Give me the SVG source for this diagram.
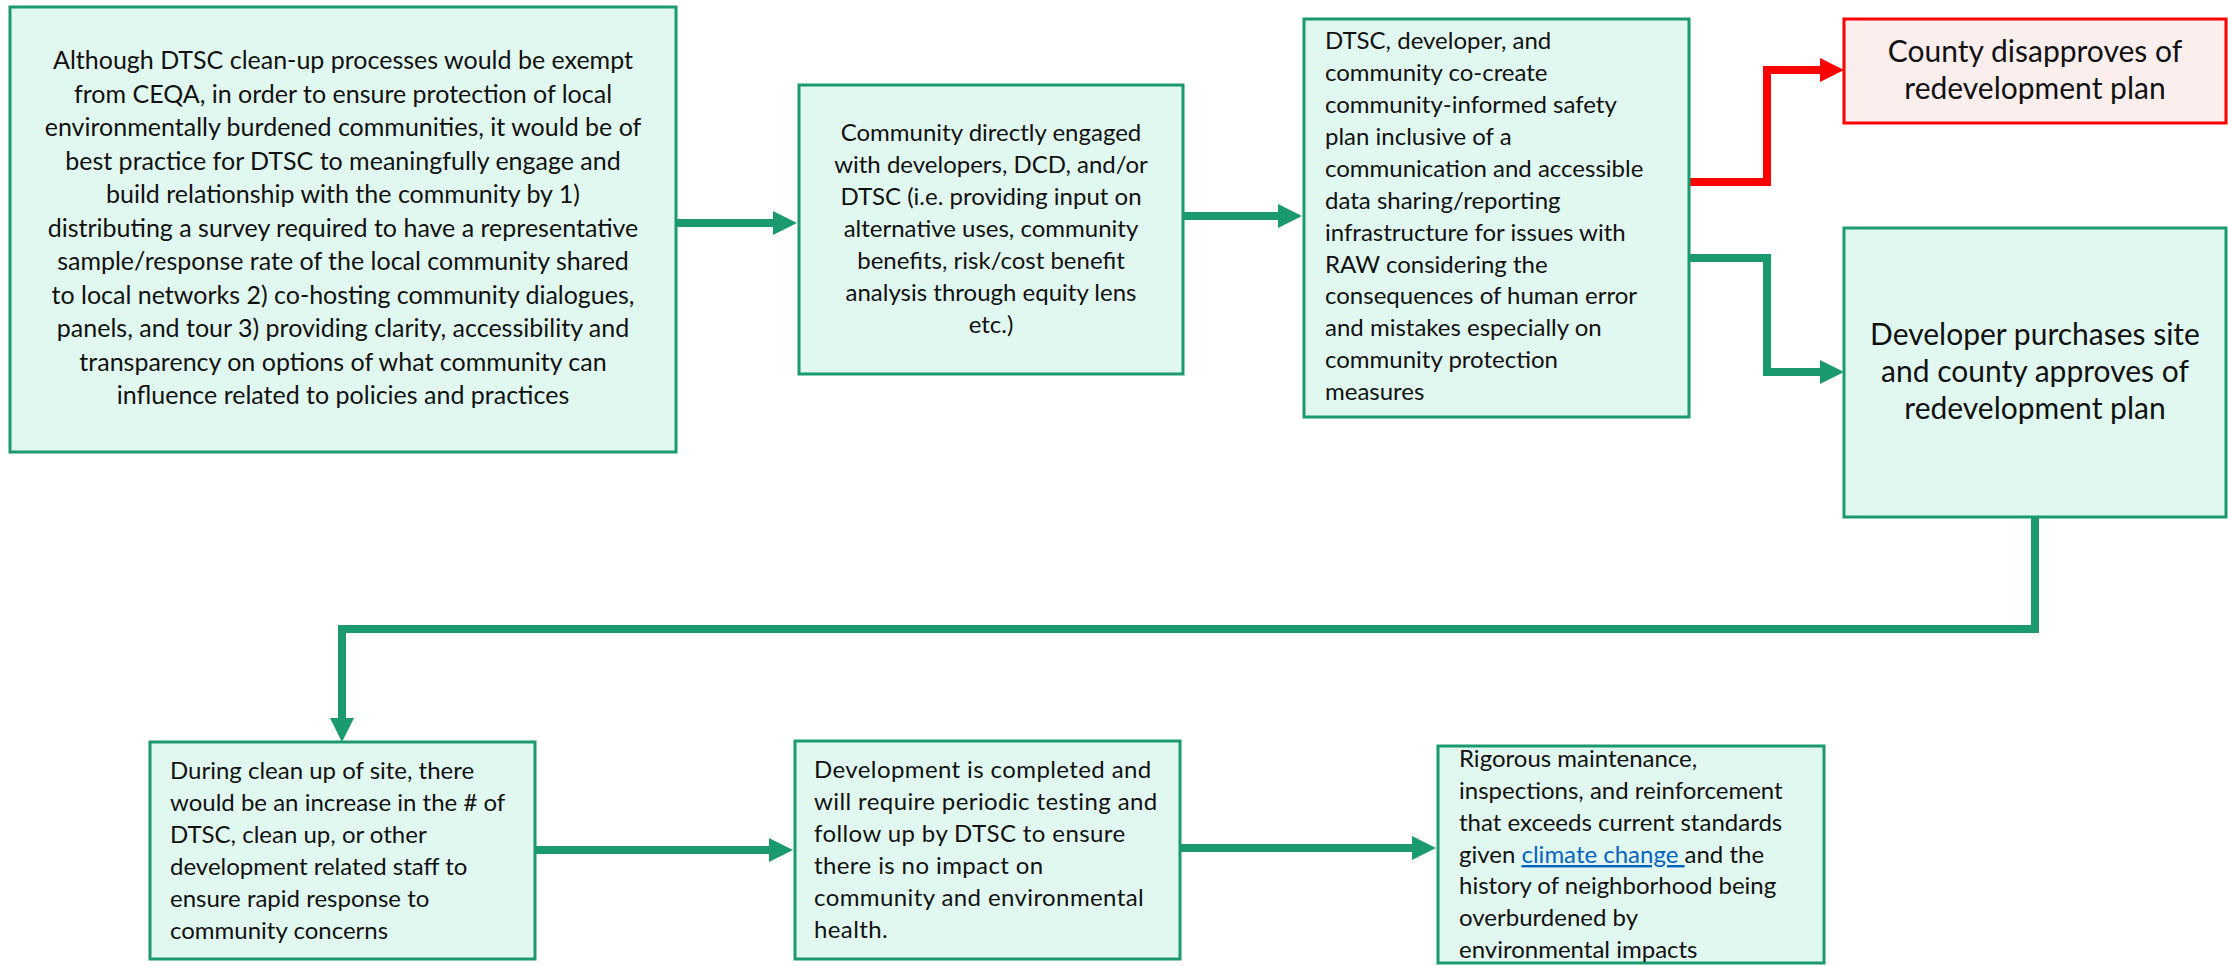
<svg xmlns="http://www.w3.org/2000/svg" width="2228" height="966" viewBox="0 0 2228 966">
<defs>
<style>
.box{fill:#e0f8ef;stroke:#1b9a70;stroke-width:3}
.rbox{fill:#fdeeee;stroke:#ff0000;stroke-width:3}
.t{font-family:Lato,"Liberation Sans",sans-serif;font-size:24px;fill:#111}
.c{text-anchor:middle}
.big{font-size:30px}
.b1{font-size:25px}
.sp{letter-spacing:0.4px}
.g{fill:none;stroke:#1b9a70;stroke-width:8;stroke-linejoin:miter}
.r{fill:none;stroke:#ff0000;stroke-width:8;stroke-linejoin:miter}
.link{fill:#0563c1;text-decoration:underline}
</style>
<marker id="ag" markerUnits="userSpaceOnUse" markerWidth="24" markerHeight="24" refX="2" refY="12" orient="auto"><path d="M0,0 L24,12 L0,24 z" fill="#1b9a70"/></marker>
<marker id="ar" markerUnits="userSpaceOnUse" markerWidth="24" markerHeight="24" refX="2" refY="12" orient="auto"><path d="M0,0 L24,12 L0,24 z" fill="#ff0000"/></marker>
</defs>
<rect width="2228" height="966" fill="#fff"/>
<g id="connectors">
<path class="g" d="M676,223 H775" marker-end="url(#ag)"/>
<path class="g" d="M1183,216 H1280" marker-end="url(#ag)"/>
<path class="r" d="M1689,182 H1767 V70 H1822" marker-end="url(#ar)"/>
<path class="g" d="M1689,258 H1767 V372 H1822" marker-end="url(#ag)"/>
<path class="g" d="M2035,517 V629 H342 V720" marker-end="url(#ag)"/>
<path class="g" d="M535,850 H771" marker-end="url(#ag)"/>
<path class="g" d="M1180,848 H1414" marker-end="url(#ag)"/>
</g>
<g id="n1">
<rect class="box" x="10" y="7" width="666" height="445"/>
<text class="t c b1" x="343" y="69">Although DTSC clean-up processes would be exempt</text>
<text class="t c b1" x="343" y="102.5">from CEQA, in order to ensure protection of local</text>
<text class="t c b1" x="343" y="136">environmentally burdened communities, it would be of</text>
<text class="t c b1" x="343" y="169.5">best practice for DTSC to meaningfully engage and</text>
<text class="t c b1" x="343" y="203">build relationship with the community by 1)</text>
<text class="t c b1" x="343" y="236.5">distributing a survey required to have a representative</text>
<text class="t c b1" x="343" y="270">sample/response rate of the local community shared</text>
<text class="t c b1" x="343" y="303.5">to local networks 2) co-hosting community dialogues,</text>
<text class="t c b1" x="343" y="337">panels, and tour 3) providing clarity, accessibility and</text>
<text class="t c b1" x="343" y="370.5">transparency on options of what community can</text>
<text class="t c b1" x="343" y="404">influence related to policies and practices</text>
</g>
<g id="n2">
<rect class="box" x="799" y="85" width="384" height="289"/>
<text class="t c" x="991" y="141">Community directly engaged</text>
<text class="t c" x="991" y="173">with developers, DCD, and/or</text>
<text class="t c" x="991" y="205">DTSC (i.e. providing input on</text>
<text class="t c" x="991" y="237">alternative uses, community</text>
<text class="t c" x="991" y="269">benefits, risk/cost benefit</text>
<text class="t c" x="991" y="301">analysis through equity lens</text>
<text class="t c" x="991" y="333">etc.)</text>
</g>
<g id="n3">
<rect class="box" x="1304" y="19" width="385" height="398"/>
<text class="t" x="1325" y="49">DTSC, developer, and</text>
<text class="t" x="1325" y="81">community co-create</text>
<text class="t" x="1325" y="113">community-informed safety</text>
<text class="t" x="1325" y="145">plan inclusive of a</text>
<text class="t" x="1325" y="177">communication and accessible</text>
<text class="t" x="1325" y="208.5">data sharing/reporting</text>
<text class="t" x="1325" y="240.5">infrastructure for issues with</text>
<text class="t" x="1325" y="272.5">RAW considering the</text>
<text class="t" x="1325" y="304">consequences of human error</text>
<text class="t" x="1325" y="336">and mistakes especially on</text>
<text class="t" x="1325" y="368">community protection</text>
<text class="t" x="1325" y="400">measures</text>
</g>
<g id="n4">
<rect class="rbox" x="1844" y="19" width="382" height="104"/>
<text class="t c big" x="2035" y="62">County disapproves of</text>
<text class="t c big" x="2035" y="99">redevelopment plan</text>
</g>
<g id="n5">
<rect class="box" x="1844" y="228" width="382" height="289"/>
<text class="t c big" x="2035" y="345">Developer purchases site</text>
<text class="t c big" x="2035" y="382">and county approves of</text>
<text class="t c big" x="2035" y="419">redevelopment plan</text>
</g>
<g id="n6">
<rect class="box" x="150" y="742" width="385" height="217"/>
<text class="t" x="170" y="779">During clean up of site, there</text>
<text class="t" x="170" y="811">would be an increase in the # of</text>
<text class="t" x="170" y="843">DTSC, clean up, or other</text>
<text class="t" x="170" y="875">development related staff to</text>
<text class="t" x="170" y="907">ensure rapid response to</text>
<text class="t" x="170" y="939">community concerns</text>
</g>
<g id="n7">
<rect class="box" x="795" y="741" width="385" height="218"/>
<text class="t sp" x="814" y="778">Development is completed and</text>
<text class="t sp" x="814" y="810">will require periodic testing and</text>
<text class="t sp" x="814" y="842">follow up by DTSC to ensure</text>
<text class="t sp" x="814" y="874">there is no impact on</text>
<text class="t sp" x="814" y="906">community and environmental</text>
<text class="t sp" x="814" y="938">health.</text>
</g>
<g id="n8">
<rect class="box" x="1438" y="746" width="386" height="217"/>
<text class="t" x="1459" y="767">Rigorous maintenance,</text>
<text class="t" x="1459" y="799">inspections, and reinforcement</text>
<text class="t" x="1459" y="831">that exceeds current standards</text>
<text class="t" x="1459" y="863">given <tspan class="link">climate change </tspan>and the</text>
<text class="t" x="1459" y="894">history of neighborhood being</text>
<text class="t" x="1459" y="926">overburdened by</text>
<text class="t" x="1459" y="958">environmental impacts</text>
</g>
</svg>
